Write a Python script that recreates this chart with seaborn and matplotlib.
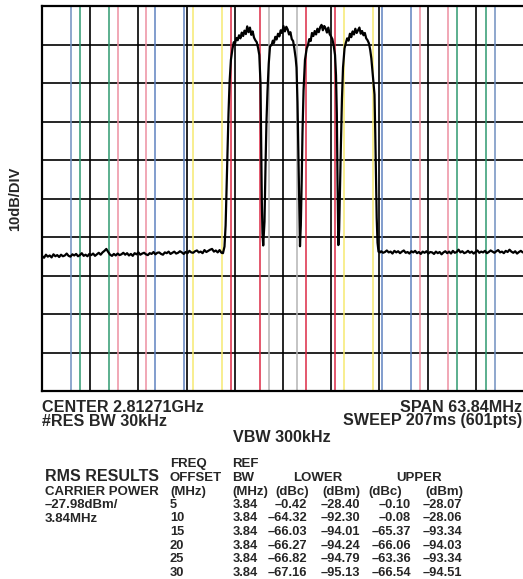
import numpy as np
import pandas as pd
import seaborn as sns
import matplotlib.pyplot as plt

# SWEEP TRACE (MHz offset from centre, dB relative to top graticule line)
floor_l_f = [-31.92, -31.65, -31.4, -31.15, -30.9, -30.65, -30.4, -30.15, -29.9, -29.65,
             -29.4, -29.15, -28.9, -28.65, -28.4, -28.15, -27.9, -27.65, -27.4, -27.15,
             -26.9, -26.65, -26.4, -26.15, -25.9, -25.65, -25.4, -25.15, -24.9, -24.65,
             -24.4, -24.15, -23.9, -23.65, -23.4, -23.15, -22.9, -22.65, -22.4, -22.15,
             -21.9, -21.65, -21.4, -21.15, -20.9, -20.65, -20.4, -20.15, -19.9, -19.65,
             -19.4, -19.15, -18.9, -18.65, -18.4, -18.15, -17.9, -17.65, -17.4, -17.15,
             -16.9, -16.65, -16.4, -16.15, -15.9, -15.65, -15.4, -15.15, -14.9, -14.65,
             -14.4, -14.15, -13.9, -13.65, -13.4, -13.15, -12.9, -12.65, -12.4, -12.15,
             -11.9, -11.65, -11.4, -11.15, -10.9, -10.65, -10.4, -10.15, -9.9, -9.65,
             -9.4, -9.15, -8.9, -8.65, -8.4, -8.15]
floor_l_db = [-64.9, -65.4, -64.6, -65.1, -64.8, -65.3, -64.5, -65.0, -64.7, -65.2,
              -64.6, -65.0, -64.8, -64.3, -64.9, -65.1, -64.5, -64.8, -64.4, -65.0,
              -64.7, -64.2, -64.9, -64.6, -65.0, -64.4, -64.7, -64.3, -64.9, -64.5,
              -64.1, -64.6, -64.0, -63.6, -63.1, -63.9, -64.6, -64.9, -64.4, -64.8,
              -64.3, -64.7, -64.5, -64.1, -64.6, -64.2, -64.8, -64.4, -64.9, -64.2,
              -64.5, -64.0, -64.6, -64.3, -64.1, -64.5, -64.7, -64.2, -64.4, -63.9,
              -64.5, -64.1, -64.0, -64.4, -64.6, -64.0, -64.2, -63.8, -64.4, -64.1,
              -63.8, -64.3, -64.1, -63.7, -64.0, -64.4, -63.9, -64.2, -63.6, -64.0,
              -64.1, -63.7, -63.5, -64.0, -63.8, -64.2, -63.4, -63.9, -63.6, -63.3,
              -63.1, -63.8, -63.5, -64.0, -63.4, -64.1]

carriers_f = [-7.95, -7.75, -7.6, -7.48, -7.35, -7.22, -7.08, -6.9,
              -6.70, -6.52, -6.36, -6.18, -6.00, -5.82, -5.64, -5.46, -5.28, -5.10,
              -4.92, -4.74, -4.56, -4.38, -4.20, -4.02, -3.84, -3.66, -3.48, -3.30, -3.14,
              -2.98, -2.89, -2.81, -2.72, -2.62, -2.45, -2.32, -2.19, -2.05, -1.89, -1.72,
              -1.50, -1.35, -1.20, -1.02, -0.85, -0.66, -0.48, -0.30, -0.12, 0.06,
              0.25, 0.44, 0.62, 0.80, 0.98, 1.16, 1.34, 1.50, 1.68,
              1.79, 1.92, 2.03, 2.15, 2.25, 2.36, 2.48, 2.58, 2.72, 2.91,
              3.14, 3.30, 3.48, 3.66, 3.84, 4.02, 4.20, 4.38, 4.56, 4.74, 4.92,
              5.10, 5.28, 5.46, 5.64, 5.82, 6.00, 6.18, 6.36, 6.54, 6.72, 6.89,
              7.02, 7.13, 7.22, 7.33, 7.44, 7.55, 7.68, 7.81, 7.95,
              8.15, 8.32, 8.50, 8.68, 8.86, 9.04, 9.22, 9.40, 9.58, 9.76, 9.94,
              10.12, 10.30, 10.48, 10.66, 10.84, 11.02, 11.20, 11.38, 11.55, 11.70,
              11.85, 11.99, 12.12, 12.22, 12.32, 12.41, 12.52, 12.65, 12.85]
carriers_db = [-64.2, -62.5, -57.0, -48.0, -38.0, -28.0, -20.0, -14.0,
               -11.2, -9.4, -9.8, -8.3, -8.9, -7.6, -8.4, -6.9, -7.8, -6.4,
               -7.3, -5.3, -6.8, -5.6, -7.5, -6.6, -8.2, -8.9, -9.4, -10.9, -12.7,
               -20.0, -35.0, -50.0, -59.0, -62.2, -56.0, -42.0, -30.0, -22.0, -15.0, -10.5,
               -10.1, -9.0, -9.6, -8.0, -8.7, -7.2, -7.9, -6.3, -7.0, -5.2,
               -6.6, -5.4, -6.1, -7.4, -6.8, -8.6, -9.1, -11.0, -13.6,
               -16.0, -25.0, -38.0, -52.0, -62.4, -57.0, -45.0, -33.0, -22.0, -14.0,
               -11.0, -10.2, -8.6, -9.1, -7.0, -7.8, -6.5, -7.4, -5.9, -6.8, -5.5,
               -4.9, -6.3, -5.2, -5.8, -6.9, -5.6, -7.3, -7.9, -8.6, -10.4, -12.7,
               -18.0, -28.0, -45.0, -62.1, -58.0, -47.0, -35.0, -24.0, -16.0,
               -11.0, -9.6, -8.4, -9.0, -7.2, -8.1, -6.6, -7.4, -5.9, -7.0, -6.3,
               -5.6, -7.2, -6.5, -7.6, -7.0, -8.4, -8.9, -9.7, -11.4, -13.6,
               -17.0, -20.0, -23.0, -33.0, -45.0, -55.0, -61.5, -63.8, -64.0]

floor_r_f = [13.0, 13.25, 13.5, 13.75, 14.0, 14.25, 14.5, 14.75, 15.0, 15.25,
             15.5, 15.75, 16.0, 16.25, 16.5, 16.75, 17.0, 17.25, 17.5, 17.75,
             18.0, 18.25, 18.5, 18.75, 19.0, 19.25, 19.5, 19.75, 20.0, 20.25,
             20.5, 20.75, 21.0, 21.25, 21.5, 21.75, 22.0, 22.25, 22.5, 22.75,
             23.0, 23.25, 23.5, 23.75, 24.0, 24.25, 24.5, 24.75, 25.0, 25.25,
             25.5, 25.75, 26.0, 26.25, 26.5, 26.75, 27.0, 27.25, 27.5, 27.75,
             28.0, 28.25, 28.5, 28.75, 29.0, 29.25, 29.5, 29.75, 30.0, 30.25,
             30.5, 30.75, 31.0, 31.25, 31.5, 31.75, 31.92]
floor_r_db = [-63.7, -64.1, -63.9, -63.5, -64.0, -63.8, -64.3, -63.6, -64.0, -63.7,
              -64.2, -63.8, -63.5, -64.1, -63.9, -64.3, -63.7, -64.0, -63.6, -64.2,
              -63.9, -64.4, -63.8, -64.1, -63.7, -64.3, -63.9, -64.0, -64.4, -63.8,
              -64.2, -63.9, -64.5, -64.0, -63.7, -64.2, -63.8, -64.3, -63.6, -64.1,
              -63.9, -63.3, -64.0, -63.7, -64.2, -64.0, -63.6, -64.1, -63.8, -64.3,
              -63.9, -63.5, -64.1, -63.8, -64.0, -63.6, -64.2, -63.9, -63.5, -63.8,
              -64.1, -63.7, -63.4, -64.0, -63.8, -64.2, -63.6, -63.9, -63.3, -63.8,
              -64.1, -63.7, -64.3, -63.9, -63.6, -64.0, -63.8]

# ACP MEASUREMENT TABLE
offsets = [5, 10, 15, 20, 25, 30]
ref_bw = [3.84, 3.84, 3.84, 3.84, 3.84, 3.84]
lower_dbc = [-0.42, -64.32, -66.03, -66.27, -66.82, -67.16]
lower_dbm = [-28.40, -92.30, -94.01, -94.24, -94.79, -95.13]
upper_dbc = [-0.10, -0.08, -65.37, -66.06, -63.36, -66.54]
upper_dbm = [-28.07, -28.06, -93.34, -94.03, -93.34, -94.51]
band_colors = ["#dc2a45", "#f6ea72", "#5f82c0", "#ee90a2", "#2f9a70", "#7090c0"]
main_color = "#b4b4b4"
span = 63.84
chan_bw = 3.84

W, H = 523, 579

sns.set_style("white")
plt.rcParams['font.family'] = ['Liberation Sans', 'DejaVu Sans']

fig = plt.figure(figsize=(W / 100, H / 100), dpi=100)
ax = fig.add_axes([42 / W, 1 - 391 / H, 482 / W, 385 / H])

# integration band edges
half = chan_bw / 2
for edge in (-half, half):
    ax.axvline(edge, color=main_color, lw=1.1, zorder=1)
for off, col in zip(offsets, band_colors):
    for c in (-off, off):
        for edge in (c - half, c + half):
            ax.axvline(edge, color=col, lw=1.1, zorder=1)

df = pd.DataFrame({"freq": floor_l_f + carriers_f + floor_r_f,
                   "level": floor_l_db + carriers_db + floor_r_db})
sns.lineplot(data=df, x="freq", y="level", ax=ax, color="black",
             linewidth=1.6, estimator=None, zorder=3)

ax.set_xlim(-span / 2, span / 2)
ax.set_ylim(-100, 0)
ax.set_xticks(np.linspace(-span / 2, span / 2, 11))
ax.set_yticks(np.arange(-100, 1, 10))
ax.tick_params(length=0, labelbottom=False, labelleft=False)
ax.set_axisbelow(True)
ax.grid(True, color="black", lw=1.2)
ax.set_xlabel("")
ax.set_ylabel("")
for s in ax.spines.values():
    s.set_color("black")
    s.set_linewidth(1.6)
ax.spines["right"].set_visible(False)


def put(x, y, s, size, ha="left", **kw):
    fig.text(x / W, 1 - y / H, s, fontsize=size, fontweight="bold",
             ha=ha, va="baseline", **kw)


def fmt(v):
    return f"{v:.2f}".replace("-", "\u2013")


fig.text(15 / W, 1 - 198.5 / H, "10dB/DIV", rotation=90, fontsize=10.5,
         fontweight="bold", ha="center", va="center")

put(42, 411.5, "CENTER 2.81271GHz", 11.6)
put(42, 425.5, "#RES BW 30kHz", 11.6)
put(522, 411.5, "SPAN 63.84MHz", 11.6, ha="right")
put(522, 425.5, "SWEEP 207ms (601pts)", 11.6, ha="right")
put(282, 442, "VBW 300kHz", 11.6, ha="center")

put(45, 481, "RMS RESULTS", 11.5)
put(45, 495, "CARRIER POWER", 9.5)
put(45, 508, "\u201327.98dBm/", 9.5)
put(45, 522.5, "3.84MHz", 9.5)

hs = 9.5
put(170, 467, "FREQ", hs)
put(170, 481, "OFFSET", hs)
put(170, 495, "(MHz)", hs)
put(232, 467, "REF", hs)
put(232, 481, "BW", hs)
put(232, 495, "(MHz)", hs)
put(318, 481, "LOWER", hs, ha="center")
put(419, 481, "UPPER", hs, ha="center")
put(275, 495, "(dBc)", hs)
put(322, 495, "(dBm)", hs)
put(368, 495, "(dBc)", hs)
put(425, 495, "(dBm)", hs)

ts = 9.3
for i, off in enumerate(offsets):
    y = 507.8 + 13.6 * i
    put(170, y, str(off), ts)
    put(258, y, f"{ref_bw[i]:.2f}", ts, ha="right")
    put(307, y, fmt(lower_dbc[i]), ts, ha="right")
    put(360, y, fmt(lower_dbm[i]), ts, ha="right")
    put(411, y, fmt(upper_dbc[i]), ts, ha="right")
    put(462, y, fmt(upper_dbm[i]), ts, ha="right")

fig.savefig("out.png", dpi=100)
